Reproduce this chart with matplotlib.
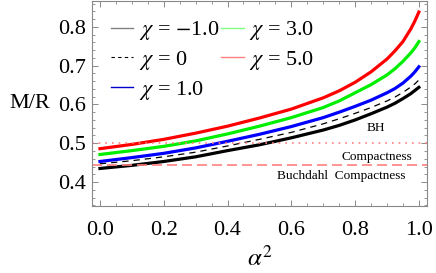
import matplotlib
matplotlib.use("Agg")
import matplotlib.pyplot as plt
from matplotlib.lines import Line2D
from matplotlib.ticker import MultipleLocator

# values (alpha^2 on x, M/R on y)
alpha2 = [0.0, 0.1, 0.2, 0.3, 0.4, 0.5, 0.6, 0.7, 0.75, 0.8, 0.85, 0.9, 0.925, 0.95, 0.975, 0.9875, 1.0]
mr_chi_m1 = [0.435, 0.443, 0.453, 0.465, 0.481, 0.496, 0.514, 0.534, 0.546, 0.560, 0.576, 0.593, 0.603, 0.615, 0.628, 0.636, 0.644]
mr_chi_0 = [0.447, 0.455, 0.465, 0.477, 0.493, 0.510, 0.528, 0.550, 0.563, 0.577, 0.592, 0.609, 0.619, 0.631, 0.645, 0.653, 0.663]
mr_chi_1 = [0.453, 0.463, 0.474, 0.488, 0.505, 0.523, 0.543, 0.566, 0.580, 0.595, 0.611, 0.630, 0.641, 0.655, 0.673, 0.684, 0.697]
mr_chi_3 = [0.471, 0.481, 0.492, 0.506, 0.524, 0.544, 0.566, 0.592, 0.609, 0.630, 0.651, 0.676, 0.692, 0.711, 0.733, 0.746, 0.762]
mr_chi_5 = [0.486, 0.497, 0.510, 0.526, 0.544, 0.565, 0.588, 0.617, 0.635, 0.657, 0.684, 0.717, 0.738, 0.762, 0.795, 0.815, 0.838]

legend_labels = [r"$\chi$ = $-$1.0", r"$\chi$ = 0", r"$\chi$ = 1.0", r"$\chi$ = 3.0", r"$\chi$ = 5.0"]
bh_limit = 0.5
buchdahl_limit = 4 / 9

plt.rcParams["font.family"] = ["Liberation Serif", "DejaVu Serif"]
plt.rcParams["mathtext.fontset"] = "stix"

fig = plt.figure(figsize=(4.36, 2.73), dpi=100)
ax = fig.add_axes([0.211, 0.245, 0.768, 0.752])

curve_style = dict(lw=2.3, solid_joinstyle="round")
ax.plot(alpha2, mr_chi_m1, color="black", **curve_style)
ax.plot(alpha2, mr_chi_0, color="black", lw=0.9, ls=(0, (5, 4)))
ax.plot(alpha2, mr_chi_1, color="#0000ff", **curve_style)
ax.plot(alpha2, mr_chi_3, color="#00ee00", **curve_style)
ax.plot(alpha2, mr_chi_5, color="#ff0000", **curve_style)

ax.axhline(bh_limit, color="#ff8080", lw=1.2, ls=(0, (1, 3)))
ax.axhline(buchdahl_limit, color="#ff8080", lw=1.2, ls=(0, (6, 3)))

ax.text(0.866, 0.538, "BH", ha="center", va="center", fontsize=9.5)
ax.text(0.869, 0.465, "Compactness", ha="center", va="center", fontsize=9.5)
ax.text(0.758, 0.416, "Buchdahl  Compactness", ha="center", va="center", fontsize=9.5)

ax.set_xlim(-0.025, 1.025)
ax.set_ylim(0.338, 0.867)
ax.xaxis.set_major_locator(MultipleLocator(0.2))
ax.xaxis.set_minor_locator(MultipleLocator(0.05))
ax.yaxis.set_major_locator(MultipleLocator(0.1))
ax.yaxis.set_minor_locator(MultipleLocator(0.02))
ax.xaxis.set_major_formatter(plt.FuncFormatter(lambda v, p: f"{v:.1f}"))
ax.yaxis.set_major_formatter(plt.FuncFormatter(lambda v, p: f"{v:.1f}"))
ax.tick_params(which="both", direction="in", top=True, right=True, color="#888888", labelsize=16)
ax.tick_params(which="major", length=4, width=0.7)
ax.tick_params(which="minor", length=2, width=0.6)
ax.tick_params(axis="x", pad=11)
ax.tick_params(axis="y", pad=4)
for spine in ax.spines.values():
    spine.set_color("#888888")
    spine.set_linewidth(0.8)

ax.set_xlabel(r"$\alpha^2$", fontsize=18, labelpad=4)
ax.set_ylabel("M/R", fontsize=16, rotation=0, ha="right", va="center")
ax.yaxis.set_label_coords(-0.125, 0.50)

handles = [
    Line2D([], [], color="#808080", lw=1),
    Line2D([], [], color="black", lw=0.8, ls=(0, (3, 3))),
    Line2D([], [], color="#0000cc", lw=1),
    Line2D([], [], color="#80ff80", lw=1),
    Line2D([], [], color="#ff8080", lw=1),
]
ax.legend(handles, legend_labels, ncol=2, loc="upper left", bbox_to_anchor=(0.01, 0.985),
          frameon=False, fontsize=16, handlelength=1.0, handletextpad=0.25,
          columnspacing=0.1, labelspacing=0.3, borderaxespad=0.3)

fig.savefig("out.png", dpi=100)
